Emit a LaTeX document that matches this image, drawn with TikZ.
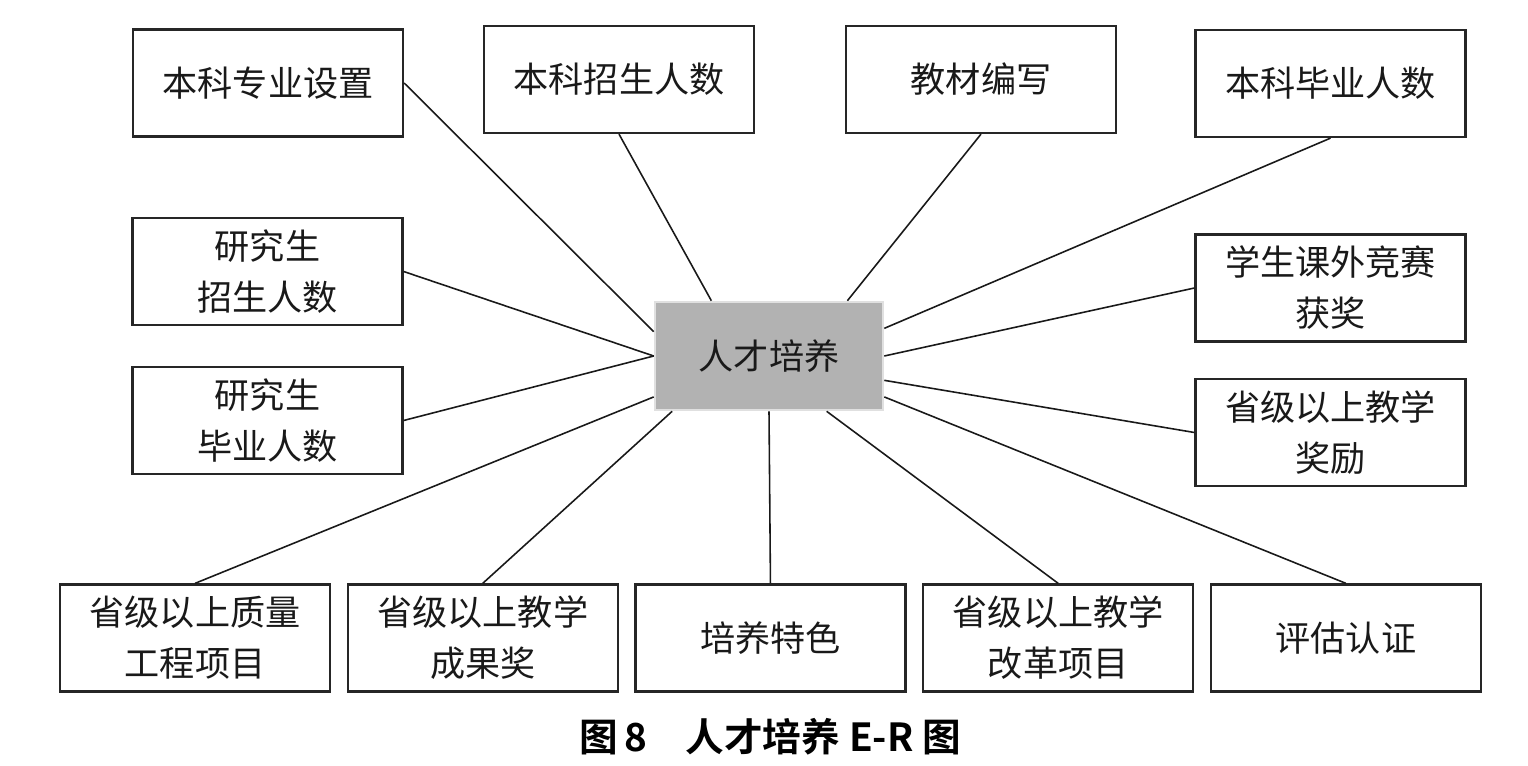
\documentclass[tikz,border=0pt]{standalone}
\usepackage{fontspec}
\newfontfamily\cjk{Noto Sans CJK SC}[BoldFont={Noto Sans CJK SC Bold}]
\usepackage{tikz}
\usetikzlibrary{positioning,calc}
\tikzstyle{attr} = [draw, rectangle, align=center, minimum width=5.4cm, minimum height=2.14cm, line width=1.3pt, color=black!85, text=black!90, font=\cjk\fontsize{20}{29}\selectfont]
\tikzstyle{entity} = [draw, rectangle, align=center, minimum width=4.56cm, minimum height=2.16cm, line width=1.5pt, color=black!12, fill=black!30, text=black!90, font=\cjk\fontsize{20}{29}\selectfont]
\tikzstyle{link} = [draw, line width=0.9pt, color=black!90]

\begin{document}
\begin{tikzpicture}[x=0.02cm, y=-0.02cm]
    \useasboundingbox (0,0) rectangle (1528,766);

    \node [entity] (rc) at (769,356) {人才培养};

    \node [attr] (a1) at (268,83) {本科专业设置};
    \node [attr] (a2) at (619,79.5) {本科招生人数};
    \node [attr] (a3) at (981,79.5) {教材编写};
    \node [attr] (a4) at (1330.5,83.5) {本科毕业人数};
    \node [attr] (a5) at (267.5,271.5) {研究生\\招生人数};
    \node [attr] (a6) at (267.5,420.5) {研究生\\毕业人数};
    \node [attr] (a7) at (1330.5,288) {学生课外竞赛\\获奖};
    \node [attr] (a8) at (1330.5,432.5) {省级以上教学\\奖励};

    \node [attr] (b1) at (195,638) {省级以上质量\\工程项目};
    \node [attr, right=0.31cm of b1] (b2) {省级以上教学\\成果奖};
    \node [attr, right=0.31cm of b2] (b3) {培养特色};
    \node [attr, right=0.31cm of b3] (b4) {省级以上教学\\改革项目};
    \node [attr, right=0.31cm of b4] (b5) {评估认证};

    \node [font=\cjk\bfseries\fontsize{22}{26}\selectfont] (cap) at (770,737) {图\,8\quad 人才培养 E-R 图};

    \draw [link] (a1.east) -- ($(rc.north west)!0.28!(rc.south west)$);
    \draw [link] (a2.south) -- ($(rc.north west)!0.25!(rc.north east)$);
    \draw [link] (a3.south) -- ($(rc.north west)!0.84!(rc.north east)$);
    \draw [link] (a4.south) -- ($(rc.north east)!0.25!(rc.south east)$);
    \draw [link] (a5.east) -- (rc.west);
    \draw [link] (a6.east) -- (rc.west);
    \draw [link] (a7.west) -- (rc.east);
    \draw [link] (a8.west) -- ($(rc.north east)!0.72!(rc.south east)$);
    \draw [link] (b1.north) -- ($(rc.north west)!0.87!(rc.south west)$);
    \draw [link] (b2.north) -- ($(rc.south west)!0.08!(rc.south east)$);
    \draw [link] (b3.north) -- (rc.south);
    \draw [link] (b4.north) -- ($(rc.south west)!0.75!(rc.south east)$);
    \draw [link] (b5.north) -- ($(rc.north east)!0.87!(rc.south east)$);
\end{tikzpicture}
\end{document}
